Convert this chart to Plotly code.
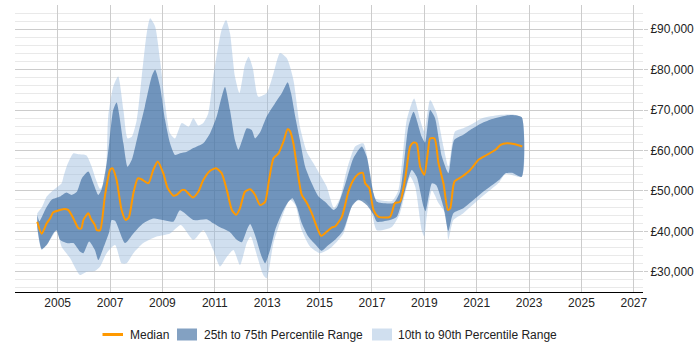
import plotly.graph_objects as go

# ---- data (year as decimal, values in GBP) ----
median_years = [2004.22, 2004.39, 2004.58, 2004.71, 2004.83, 2005.09, 2005.2, 2005.4, 2005.6, 2005.79, 2005.9,
                2005.98, 2006.17, 2006.26, 2006.42, 2006.49, 2006.62, 2006.8, 2007.0, 2007.09, 2007.25, 2007.44,
                2007.6, 2007.72, 2007.89, 2008.06, 2008.2, 2008.46, 2008.65, 2008.82, 2009.03, 2009.2, 2009.42,
                2009.54, 2009.74, 2009.86, 2010.16, 2010.37, 2010.56, 2010.82, 2011.05, 2011.26, 2011.46, 2011.65,
                2011.81, 2011.96, 2012.15, 2012.35, 2012.54, 2012.73, 2012.92, 2013.07, 2013.24, 2013.43, 2013.62,
                2013.78, 2013.87, 2014.0, 2014.17, 2014.32, 2014.51, 2014.7, 2014.89, 2015.06, 2015.27, 2015.47,
                2015.59, 2015.85, 2016.1, 2016.29, 2016.48, 2016.65, 2016.74, 2016.9, 2017.06, 2017.25, 2017.69,
                2017.88, 2018.07, 2018.27, 2018.46, 2018.59, 2018.71, 2018.84, 2019.0, 2019.13, 2019.22, 2019.39,
                2019.54, 2019.73, 2019.9, 2019.99, 2020.15, 2020.43, 2020.75, 2021.07, 2021.32, 2021.72, 2021.91,
                2022.16, 2022.42, 2022.74]
median_vals = [42400, 39400, 42000, 43200, 44700, 45300, 45500, 45300, 43200, 40800, 40700,
               42800, 44500, 43200, 41600, 40300, 40300, 48600, 55200, 55600, 52700, 45300,
               42800, 43500, 49400, 53100, 52900, 51900, 55200, 57300, 54400, 50700, 48800,
               49000, 50200, 50200, 48400, 49800, 52700, 55000, 55600, 54400, 50200, 45300,
               44100, 45700, 49800, 50400, 49000, 46500, 47300, 52700, 58100, 59300, 62200,
               65300, 64800, 61800, 54400, 49000, 47100, 44500, 41200, 38900, 39900, 41000,
               41200, 43600, 49800, 52700, 54200, 54500, 51900, 50700, 45300, 43600, 43600,
               47000, 47300, 53200, 61000, 62000, 61700, 56000, 54000, 59300, 63000, 63000,
               56900, 51900, 45300, 45700, 52300, 53500, 55200, 57700, 58700, 60200, 61400,
               61800, 61600, 61000]

p75_years = [2004.22, 2004.3, 2004.52, 2004.77, 2005.09, 2005.34, 2005.53, 2005.73, 2005.92, 2006.17, 2006.36,
             2006.55, 2006.68, 2006.87, 2006.97, 2007.12, 2007.25, 2007.51, 2007.67, 2007.83, 2008.08, 2008.33,
             2008.59, 2008.72, 2008.91, 2009.1, 2009.29, 2009.48, 2009.67, 2009.93, 2010.18, 2010.56, 2010.82,
             2011.07, 2011.25, 2011.39, 2011.58, 2011.77, 2011.9, 2012.09, 2012.22, 2012.41, 2012.54, 2012.73,
             2012.98, 2013.3, 2013.56, 2013.78, 2013.91, 2014.07, 2014.25, 2014.45, 2014.7, 2014.96, 2015.21,
             2015.53, 2015.66, 2015.97, 2016.29, 2016.61, 2016.8, 2017.06, 2017.19, 2017.82, 2018.07, 2018.39,
             2018.59, 2018.9, 2019.03, 2019.22, 2019.41, 2019.67, 2019.92, 2020.14, 2020.49, 2020.75, 2021.21,
             2021.59, 2022.1, 2022.35, 2022.72]
p75_vals = [44100, 42500, 45300, 47800, 48600, 49600, 49000, 49800, 53100, 54800, 51900,
            49000, 50400, 56900, 62000, 70000, 71900, 61800, 56000, 57700, 64300, 70900,
            78300, 80000, 75800, 67600, 61800, 58900, 59300, 59700, 60600, 61800, 64300,
            68400, 73000, 75700, 70000, 62600, 60200, 63400, 65500, 65100, 63000, 64500,
            68400, 71700, 74200, 76900, 74200, 68400, 62600, 56000, 51900, 48600, 47300,
            45300, 45900, 51500, 58100, 61000, 58500, 49400, 47300, 47000, 49800, 65900,
            69600, 63400, 62000, 70000, 68000, 58500, 54400, 62600, 63900, 65100, 66800,
            67800, 68600, 68800, 68200]

p25_years = [2004.22, 2004.39, 2004.58, 2004.83, 2004.95, 2005.09, 2005.34, 2005.6, 2005.85, 2005.98, 2006.2,
             2006.42, 2006.55, 2006.74, 2006.97, 2007.06, 2007.19, 2007.57, 2007.89, 2008.27, 2008.65, 2009.03,
             2009.42, 2009.67, 2010.18, 2010.69, 2010.94, 2011.2, 2011.58, 2011.84, 2012.03, 2012.22, 2012.35,
             2012.54, 2012.79, 2012.92, 2013.11, 2013.3, 2013.56, 2013.81, 2013.96, 2014.13, 2014.32, 2014.57,
             2014.89, 2015.08, 2015.34, 2015.59, 2015.91, 2016.23, 2016.48, 2016.8, 2017.06, 2017.19, 2017.69,
             2017.95, 2018.2, 2018.52, 2018.71, 2018.97, 2019.05, 2019.29, 2019.45, 2019.73, 2019.92, 2020.11,
             2020.49, 2021.21, 2021.85, 2022.1, 2022.35, 2022.72]
p25_vals = [41000, 35600, 36600, 39500, 40300, 37900, 37100, 37100, 35000, 34600, 37500,
            35400, 32900, 35800, 39900, 42800, 42600, 37100, 39500, 42000, 43200, 42800,
            42400, 45200, 42800, 43000, 42000, 41000, 39800, 37900, 37300, 40300, 41800,
            39000, 33700, 32100, 35400, 40300, 44500, 47300, 48200, 46100, 42000, 38700,
            36400, 35200, 36600, 37900, 40300, 46100, 47800, 46500, 44100, 42400, 42800,
            43600, 48600, 55200, 53500, 46100, 45000, 51900, 51500, 46100, 40100, 44500,
            45700, 49600, 52700, 54400, 54500, 53500]

p90_years = [2004.22, 2004.4, 2004.58, 2004.83, 2005.15, 2005.22, 2005.34, 2005.6, 2005.79, 2006.0, 2006.11,
             2006.3, 2006.45, 2006.62, 2006.81, 2006.93, 2007.12, 2007.31, 2007.51, 2007.67, 2007.83, 2008.02,
             2008.21, 2008.4, 2008.53, 2008.72, 2008.91, 2009.1, 2009.29, 2009.48, 2009.74, 2010.0, 2010.18,
             2010.37, 2010.56, 2010.75, 2010.94, 2011.26, 2011.43, 2011.58, 2011.77, 2011.94, 2012.15, 2012.29,
             2012.45, 2012.66, 2012.98, 2013.24, 2013.49, 2013.75, 2014.0, 2014.25, 2014.51, 2014.76, 2015.02,
             2015.27, 2015.55, 2015.78, 2016.04, 2016.36, 2016.67, 2016.93, 2017.12, 2017.25, 2017.76, 2018.01,
             2018.33, 2018.61, 2018.84, 2019.0, 2019.22, 2019.47, 2019.73, 2019.92, 2020.17, 2020.49, 2020.75,
             2021.21, 2021.85, 2022.35, 2022.72]
p90_vals = [44500, 46000, 48600, 50200, 51900, 53500, 56000, 59300, 59100, 59000, 58700,
            56000, 53000, 50500, 52500, 68400, 75800, 78300, 70000, 63000, 63400, 67600,
            78300, 89000, 92700, 90700, 82400, 71700, 64300, 63000, 66800, 65900, 68000,
            66200, 66800, 69200, 78300, 89900, 92300, 89000, 78300, 74200, 81200, 83200,
            80400, 73300, 74200, 79100, 84100, 82800, 77500, 65900, 59700, 56900, 54000,
            51100, 45800, 48200, 55200, 61000, 61800, 54400, 48200, 47800, 47500, 50200,
            67600, 72900, 67600, 64700, 72500, 69200, 61000, 56000, 64700, 65500, 66300,
            68000, 68800, 68900, 68200]

p10_years = [2004.22, 2004.39, 2004.71, 2004.96, 2005.15, 2005.47, 2005.85, 2006.11, 2006.42, 2006.62, 2006.87,
             2007.19, 2007.44, 2007.63, 2007.89, 2008.27, 2008.78, 2009.29, 2009.7, 2010.18, 2010.56, 2010.94,
             2011.2, 2011.46, 2011.71, 2011.96, 2012.22, 2012.37, 2012.6, 2012.85, 2012.98, 2013.24, 2013.62,
             2013.87, 2014.07, 2014.32, 2014.64, 2015.02, 2015.4, 2015.91, 2016.29, 2016.67, 2016.93, 2017.19,
             2017.76, 2018.07, 2018.46, 2018.65, 2018.9, 2019.0, 2019.09, 2019.29, 2019.54, 2019.8, 2019.92,
             2020.11, 2020.49, 2021.21, 2021.85, 2022.1, 2022.72]
p10_vals = [40500, 35400, 37900, 40300, 36200, 33400, 29200, 30000, 30200, 31300, 34600,
            36600, 32100, 32100, 34600, 37100, 38700, 39500, 41600, 37900, 40300, 35400,
            31300, 33700, 35400, 31700, 37100, 38700, 34200, 29200, 28400, 37100, 44500,
            47800, 46600, 40300, 36200, 34600, 35800, 39500, 47000, 47800, 46100, 40300,
            41100, 44500, 53500, 51100, 40300, 38700, 43600, 50200, 47000, 44500, 38000,
            42800, 44500, 48600, 52100, 54200, 53500]

tick_years = [2005, 2007, 2009, 2011, 2013, 2015, 2017, 2019, 2021, 2023, 2025, 2027]

series_names = ["Median", "25th to 75th Percentile Range", "10th to 90th Percentile Range"]

MEDIAN_COLOR = "#ff9900"
IQR_FILL = "rgba(48,98,154,0.6)"
OUTER_FILL = "rgba(150,185,220,0.45)"

W, H = 700, 350
ML, MR, MT, MB = 15, 57, 5, 58
PW, PH = W - ML - MR, H - MT - MB


def px_x(p):
    return (p - ML) / PW


def px_y(p):
    return (H - MB - p) / PH


fig = go.Figure()

fig.add_trace(go.Scatter(
    x=p90_years + p10_years[::-1], y=p90_vals + p10_vals[::-1],
    fill="toself", fillcolor=OUTER_FILL,
    line=dict(width=0, shape="spline", smoothing=0.6), mode="lines",
    name=series_names[2], hoverinfo="skip", showlegend=False))

fig.add_trace(go.Scatter(
    x=p75_years + p25_years[::-1], y=p75_vals + p25_vals[::-1],
    fill="toself", fillcolor=IQR_FILL,
    line=dict(width=0, shape="spline", smoothing=0.6), mode="lines",
    name=series_names[1], hoverinfo="skip", showlegend=False))

fig.add_trace(go.Scatter(
    x=median_years, y=median_vals, mode="lines",
    line=dict(color=MEDIAN_COLOR, width=2, shape="spline", smoothing=0.6),
    name=series_names[0], showlegend=False))

# ---- legend drawn below the plot (swatches + real text) ----
leg_y = 334.5
shapes = [
    dict(type="line", xref="paper", yref="paper", x0=px_x(102.5), x1=px_x(123), y0=px_y(leg_y), y1=px_y(leg_y),
         line=dict(color=MEDIAN_COLOR, width=3)),
    dict(type="rect", xref="paper", yref="paper", x0=px_x(177), x1=px_x(197), y0=px_y(340.5), y1=px_y(328.5),
         fillcolor=IQR_FILL, line=dict(width=0)),
    dict(type="rect", xref="paper", yref="paper", x0=px_x(372), x1=px_x(392), y0=px_y(340.5), y1=px_y(328.5),
         fillcolor=OUTER_FILL, line=dict(width=0)),
]
text_x = [127.5, 201.5, 396]
annotations = [
    dict(text=name, xref="paper", yref="paper", x=px_x(tx), y=px_y(leg_y), xanchor="left", yanchor="middle",
         showarrow=False, font=dict(size=12, color="#222"))
    for name, tx in zip(series_names, text_x)
]

fig.update_layout(
    width=W, height=H,
    margin=dict(l=ML, r=MR, t=MT, b=MB),
    paper_bgcolor="white", plot_bgcolor="white",
    font=dict(family="Liberation Sans, Arial, sans-serif", size=12, color="#222"),
    showlegend=False,
    shapes=shapes,
    annotations=annotations,
    xaxis=dict(range=[2003.37, 2027.35], tickvals=tick_years, ticktext=[str(t) for t in tick_years],
               showgrid=True, gridcolor="#cccccc", gridwidth=1, zeroline=False,
               showline=True, linecolor="black", linewidth=1, ticks="", fixedrange=True),
    yaxis=dict(range=[25000, 96000], side="right", dtick=10000, tick0=0,
               tickprefix="£", tickformat=",d", showgrid=True, gridcolor="#cccccc",
               zeroline=False, showline=False, ticks="outside", ticklen=4, tickcolor="#cccccc",
               minor=dict(dtick=2000, showgrid=True, gridcolor="#e9e9e9"), fixedrange=True),
)

fig.write_html("out.html")
